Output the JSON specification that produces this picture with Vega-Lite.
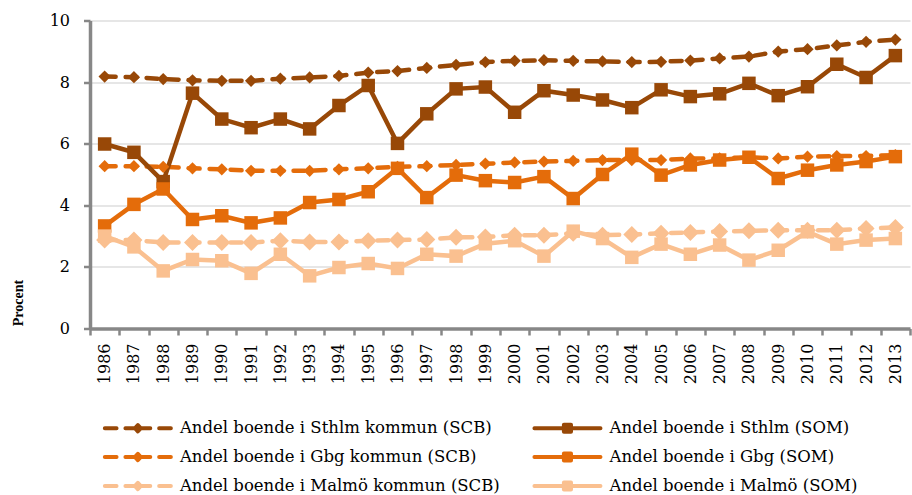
{
  "$schema": "https://vega.github.io/schema/vega-lite/v6.json",
  "width": 820,
  "height": 308,
  "autosize": "none",
  "padding": {"left": 90, "top": 20.5, "right": 2, "bottom": 166.5},
  "background": "white",
  "config": {
    "view": {"stroke": null},
    "axis": {
      "labelFont": "DejaVu Serif",
      "labelFontSize": 16,
      "labelColor": "black",
      "domainColor": "#878787",
      "domainWidth": 3.5,
      "tickColor": "#878787",
      "tickWidth": 2.5,
      "tickSize": 6.5,
      "gridColor": "#DEDEDE",
      "gridWidth": 1.5
    }
  },
  "data": {
    "values": [
      {"year": "1986", "Andel boende i Sthlm kommun (SCB)": 8.18, "Andel boende i Sthlm (SOM)": 5.99, "Andel boende i Gbg kommun (SCB)": 5.27, "Andel boende i Gbg (SOM)": 3.33, "Andel boende i Malmö kommun (SCB)": 2.87, "Andel boende i Malmö (SOM)": 3.0},
      {"year": "1987", "Andel boende i Sthlm kommun (SCB)": 8.16, "Andel boende i Sthlm (SOM)": 5.72, "Andel boende i Gbg kommun (SCB)": 5.27, "Andel boende i Gbg (SOM)": 4.03, "Andel boende i Malmö kommun (SCB)": 2.87, "Andel boende i Malmö (SOM)": 2.65},
      {"year": "1988", "Andel boende i Sthlm kommun (SCB)": 8.10, "Andel boende i Sthlm (SOM)": 4.77, "Andel boende i Gbg kommun (SCB)": 5.25, "Andel boende i Gbg (SOM)": 4.53, "Andel boende i Malmö kommun (SCB)": 2.79, "Andel boende i Malmö (SOM)": 1.87},
      {"year": "1989", "Andel boende i Sthlm kommun (SCB)": 8.06, "Andel boende i Sthlm (SOM)": 7.64, "Andel boende i Gbg kommun (SCB)": 5.20, "Andel boende i Gbg (SOM)": 3.54, "Andel boende i Malmö kommun (SCB)": 2.79, "Andel boende i Malmö (SOM)": 2.24},
      {"year": "1990", "Andel boende i Sthlm kommun (SCB)": 8.04, "Andel boende i Sthlm (SOM)": 6.80, "Andel boende i Gbg kommun (SCB)": 5.17, "Andel boende i Gbg (SOM)": 3.66, "Andel boende i Malmö kommun (SCB)": 2.79, "Andel boende i Malmö (SOM)": 2.20},
      {"year": "1991", "Andel boende i Sthlm kommun (SCB)": 8.04, "Andel boende i Sthlm (SOM)": 6.52, "Andel boende i Gbg kommun (SCB)": 5.12, "Andel boende i Gbg (SOM)": 3.43, "Andel boende i Malmö kommun (SCB)": 2.79, "Andel boende i Malmö (SOM)": 1.79},
      {"year": "1992", "Andel boende i Sthlm kommun (SCB)": 8.11, "Andel boende i Sthlm (SOM)": 6.80, "Andel boende i Gbg kommun (SCB)": 5.12, "Andel boende i Gbg (SOM)": 3.59, "Andel boende i Malmö kommun (SCB)": 2.85, "Andel boende i Malmö (SOM)": 2.41},
      {"year": "1993", "Andel boende i Sthlm kommun (SCB)": 8.15, "Andel boende i Sthlm (SOM)": 6.48, "Andel boende i Gbg kommun (SCB)": 5.12, "Andel boende i Gbg (SOM)": 4.09, "Andel boende i Malmö kommun (SCB)": 2.81, "Andel boende i Malmö (SOM)": 1.71},
      {"year": "1994", "Andel boende i Sthlm kommun (SCB)": 8.20, "Andel boende i Sthlm (SOM)": 7.24, "Andel boende i Gbg kommun (SCB)": 5.17, "Andel boende i Gbg (SOM)": 4.19, "Andel boende i Malmö kommun (SCB)": 2.81, "Andel boende i Malmö (SOM)": 1.98},
      {"year": "1995", "Andel boende i Sthlm kommun (SCB)": 8.31, "Andel boende i Sthlm (SOM)": 7.89, "Andel boende i Gbg kommun (SCB)": 5.20, "Andel boende i Gbg (SOM)": 4.44, "Andel boende i Malmö kommun (SCB)": 2.85, "Andel boende i Malmö (SOM)": 2.11},
      {"year": "1996", "Andel boende i Sthlm kommun (SCB)": 8.36, "Andel boende i Sthlm (SOM)": 6.01, "Andel boende i Gbg kommun (SCB)": 5.25, "Andel boende i Gbg (SOM)": 5.20, "Andel boende i Malmö kommun (SCB)": 2.87, "Andel boende i Malmö (SOM)": 1.95},
      {"year": "1997", "Andel boende i Sthlm kommun (SCB)": 8.46, "Andel boende i Sthlm (SOM)": 6.97, "Andel boende i Gbg kommun (SCB)": 5.27, "Andel boende i Gbg (SOM)": 4.25, "Andel boende i Malmö kommun (SCB)": 2.89, "Andel boende i Malmö (SOM)": 2.41},
      {"year": "1998", "Andel boende i Sthlm kommun (SCB)": 8.56, "Andel boende i Sthlm (SOM)": 7.78, "Andel boende i Gbg kommun (SCB)": 5.31, "Andel boende i Gbg (SOM)": 4.98, "Andel boende i Malmö kommun (SCB)": 2.96, "Andel boende i Malmö (SOM)": 2.35},
      {"year": "1999", "Andel boende i Sthlm kommun (SCB)": 8.65, "Andel boende i Sthlm (SOM)": 7.84, "Andel boende i Gbg kommun (SCB)": 5.35, "Andel boende i Gbg (SOM)": 4.80, "Andel boende i Malmö kommun (SCB)": 2.97, "Andel boende i Malmö (SOM)": 2.75},
      {"year": "2000", "Andel boende i Sthlm kommun (SCB)": 8.69, "Andel boende i Sthlm (SOM)": 7.02, "Andel boende i Gbg kommun (SCB)": 5.39, "Andel boende i Gbg (SOM)": 4.74, "Andel boende i Malmö kommun (SCB)": 3.03, "Andel boende i Malmö (SOM)": 2.85},
      {"year": "2001", "Andel boende i Sthlm kommun (SCB)": 8.71, "Andel boende i Sthlm (SOM)": 7.72, "Andel boende i Gbg kommun (SCB)": 5.42, "Andel boende i Gbg (SOM)": 4.93, "Andel boende i Malmö kommun (SCB)": 3.03, "Andel boende i Malmö (SOM)": 2.35},
      {"year": "2002", "Andel boende i Sthlm kommun (SCB)": 8.69, "Andel boende i Sthlm (SOM)": 7.58, "Andel boende i Gbg kommun (SCB)": 5.44, "Andel boende i Gbg (SOM)": 4.22, "Andel boende i Malmö kommun (SCB)": 3.09, "Andel boende i Malmö (SOM)": 3.16},
      {"year": "2003", "Andel boende i Sthlm kommun (SCB)": 8.67, "Andel boende i Sthlm (SOM)": 7.42, "Andel boende i Gbg kommun (SCB)": 5.47, "Andel boende i Gbg (SOM)": 5.00, "Andel boende i Malmö kommun (SCB)": 3.03, "Andel boende i Malmö (SOM)": 2.92},
      {"year": "2004", "Andel boende i Sthlm kommun (SCB)": 8.65, "Andel boende i Sthlm (SOM)": 7.17, "Andel boende i Gbg kommun (SCB)": 5.47, "Andel boende i Gbg (SOM)": 5.66, "Andel boende i Malmö kommun (SCB)": 3.05, "Andel boende i Malmö (SOM)": 2.31},
      {"year": "2005", "Andel boende i Sthlm kommun (SCB)": 8.66, "Andel boende i Sthlm (SOM)": 7.75, "Andel boende i Gbg kommun (SCB)": 5.47, "Andel boende i Gbg (SOM)": 4.98, "Andel boende i Malmö kommun (SCB)": 3.09, "Andel boende i Malmö (SOM)": 2.74},
      {"year": "2006", "Andel boende i Sthlm kommun (SCB)": 8.70, "Andel boende i Sthlm (SOM)": 7.53, "Andel boende i Gbg kommun (SCB)": 5.52, "Andel boende i Gbg (SOM)": 5.31, "Andel boende i Malmö kommun (SCB)": 3.12, "Andel boende i Malmö (SOM)": 2.41},
      {"year": "2007", "Andel boende i Sthlm kommun (SCB)": 8.77, "Andel boende i Sthlm (SOM)": 7.62, "Andel boende i Gbg kommun (SCB)": 5.52, "Andel boende i Gbg (SOM)": 5.47, "Andel boende i Malmö kommun (SCB)": 3.15, "Andel boende i Malmö (SOM)": 2.71},
      {"year": "2008", "Andel boende i Sthlm kommun (SCB)": 8.83, "Andel boende i Sthlm (SOM)": 7.96, "Andel boende i Gbg kommun (SCB)": 5.56, "Andel boende i Gbg (SOM)": 5.56, "Andel boende i Malmö kommun (SCB)": 3.17, "Andel boende i Malmö (SOM)": 2.22},
      {"year": "2009", "Andel boende i Sthlm kommun (SCB)": 8.99, "Andel boende i Sthlm (SOM)": 7.56, "Andel boende i Gbg kommun (SCB)": 5.52, "Andel boende i Gbg (SOM)": 4.87, "Andel boende i Malmö kommun (SCB)": 3.19, "Andel boende i Malmö (SOM)": 2.54},
      {"year": "2010", "Andel boende i Sthlm kommun (SCB)": 9.07, "Andel boende i Sthlm (SOM)": 7.85, "Andel boende i Gbg kommun (SCB)": 5.58, "Andel boende i Gbg (SOM)": 5.14, "Andel boende i Malmö kommun (SCB)": 3.19, "Andel boende i Malmö (SOM)": 3.14},
      {"year": "2011", "Andel boende i Sthlm kommun (SCB)": 9.19, "Andel boende i Sthlm (SOM)": 8.58, "Andel boende i Gbg kommun (SCB)": 5.60, "Andel boende i Gbg (SOM)": 5.31, "Andel boende i Malmö kommun (SCB)": 3.19, "Andel boende i Malmö (SOM)": 2.74},
      {"year": "2012", "Andel boende i Sthlm kommun (SCB)": 9.31, "Andel boende i Sthlm (SOM)": 8.15, "Andel boende i Gbg kommun (SCB)": 5.60, "Andel boende i Gbg (SOM)": 5.42, "Andel boende i Malmö kommun (SCB)": 3.25, "Andel boende i Malmö (SOM)": 2.87},
      {"year": "2013", "Andel boende i Sthlm kommun (SCB)": 9.38, "Andel boende i Sthlm (SOM)": 8.86, "Andel boende i Gbg kommun (SCB)": 5.63, "Andel boende i Gbg (SOM)": 5.58, "Andel boende i Malmö kommun (SCB)": 3.28, "Andel boende i Malmö (SOM)": 2.92}
    ]
  },
  "transform": [
    {"fold": ["Andel boende i Sthlm kommun (SCB)", "Andel boende i Sthlm (SOM)", "Andel boende i Gbg kommun (SCB)", "Andel boende i Gbg (SOM)", "Andel boende i Malmö kommun (SCB)", "Andel boende i Malmö (SOM)"], "as": ["series", "value"]}
  ],
  "encoding": {
    "x": {
      "field": "year",
      "type": "ordinal",
      "scale": {"type": "band", "paddingInner": 0, "paddingOuter": 0},
      "axis": {"title": null, "labelAngle": -90, "tickBand": "extent", "grid": false, "labelPadding": 8}
    },
    "y": {
      "field": "value",
      "type": "quantitative",
      "scale": {"domain": [0, 10], "nice": false},
      "axis": {
        "values": [0, 2, 4, 6, 8, 10],
        "grid": true,
        "labelPadding": 14,
        "title": "Procent",
        "titleFont": "Liberation Serif",
        "titleFontWeight": "bold",
        "titleFontSize": 14,
        "titleColor": "black",
        "titleAngle": 270,
        "titleX": -71.5,
        "titleY": 282,
        "titleAlign": "center",
        "titleBaseline": "middle"
      }
    },
    "color": {
      "field": "series",
      "type": "nominal",
      "scale": {
        "domain": ["Andel boende i Sthlm kommun (SCB)", "Andel boende i Sthlm (SOM)", "Andel boende i Gbg kommun (SCB)", "Andel boende i Gbg (SOM)", "Andel boende i Malmö kommun (SCB)", "Andel boende i Malmö (SOM)"],
        "range": ["#984807", "#984807", "#E46C0A", "#E46C0A", "#FAC090", "#FAC090"]
      },
      "legend": {
        "orient": "none",
        "direction": "horizontal",
        "legendX": 10.35,
        "legendY": 393.25,
        "columns": 2,
        "title": null,
        "padding": 0,
        "clipHeight": 28.5,
        "rowPadding": 0,
        "columnPadding": 29.6,
        "symbolSize": 5041,
        "symbolStrokeWidth": 4,
        "labelOffset": 4.6,
        "labelFont": "DejaVu Serif",
        "labelFontSize": 16.5,
        "labelColor": "black",
        "labelLimit": 600,
        "encode": {
          "symbols": {
            "update": {
              "shape": {"signal": "indexof(datum.value, 'SCB') >= 0 ? 'M-0.93,0L-0.6,0M-0.35,0L0.35,0M0.6,0L0.93,0M0,-0.09L0.085,0L0,0.09L-0.085,0Z' : 'M-0.93,0L0.93,0M-0.1,-0.1L0.1,-0.1L0.1,0.1L-0.1,0.1Z'"},
              "size": {"value": 5041},
              "fill": {"signal": "scale('color', datum.value)"},
              "stroke": {"signal": "scale('color', datum.value)"},
              "strokeWidth": {"value": 4},
              "strokeCap": {"value": "round"},
              "strokeJoin": {"value": "round"},
              "strokeDash": {"value": []},
              "opacity": {"value": 1}
            }
          }
        }
      }
    }
  },
  "layer": [
    {
      "transform": [{"filter": "indexof(datum.series, 'SCB') >= 0"}],
      "mark": {"type": "line", "strokeWidth": 4.5, "strokeCap": "round", "strokeDash": [11, 10]}
    },
    {
      "transform": [{"filter": "indexof(datum.series, 'SOM') >= 0"}],
      "mark": {"type": "line", "strokeWidth": 4.5, "strokeCap": "round"}
    },
    {
      "transform": [{"filter": "indexof(datum.series, 'SCB') >= 0 && indexof(datum.series, 'Malmö') < 0"}],
      "mark": {"type": "point", "filled": true, "opacity": 1, "shape": "diamond", "size": 150}
    },
    {
      "transform": [{"filter": "indexof(datum.series, 'SCB') >= 0 && indexof(datum.series, 'Malmö') >= 0"}],
      "mark": {"type": "point", "filled": true, "opacity": 1, "shape": "diamond", "size": 289}
    },
    {
      "transform": [{"filter": "indexof(datum.series, 'SOM') >= 0"}],
      "mark": {"type": "point", "filled": true, "opacity": 1, "shape": "square", "size": 182}
    }
  ]
}
